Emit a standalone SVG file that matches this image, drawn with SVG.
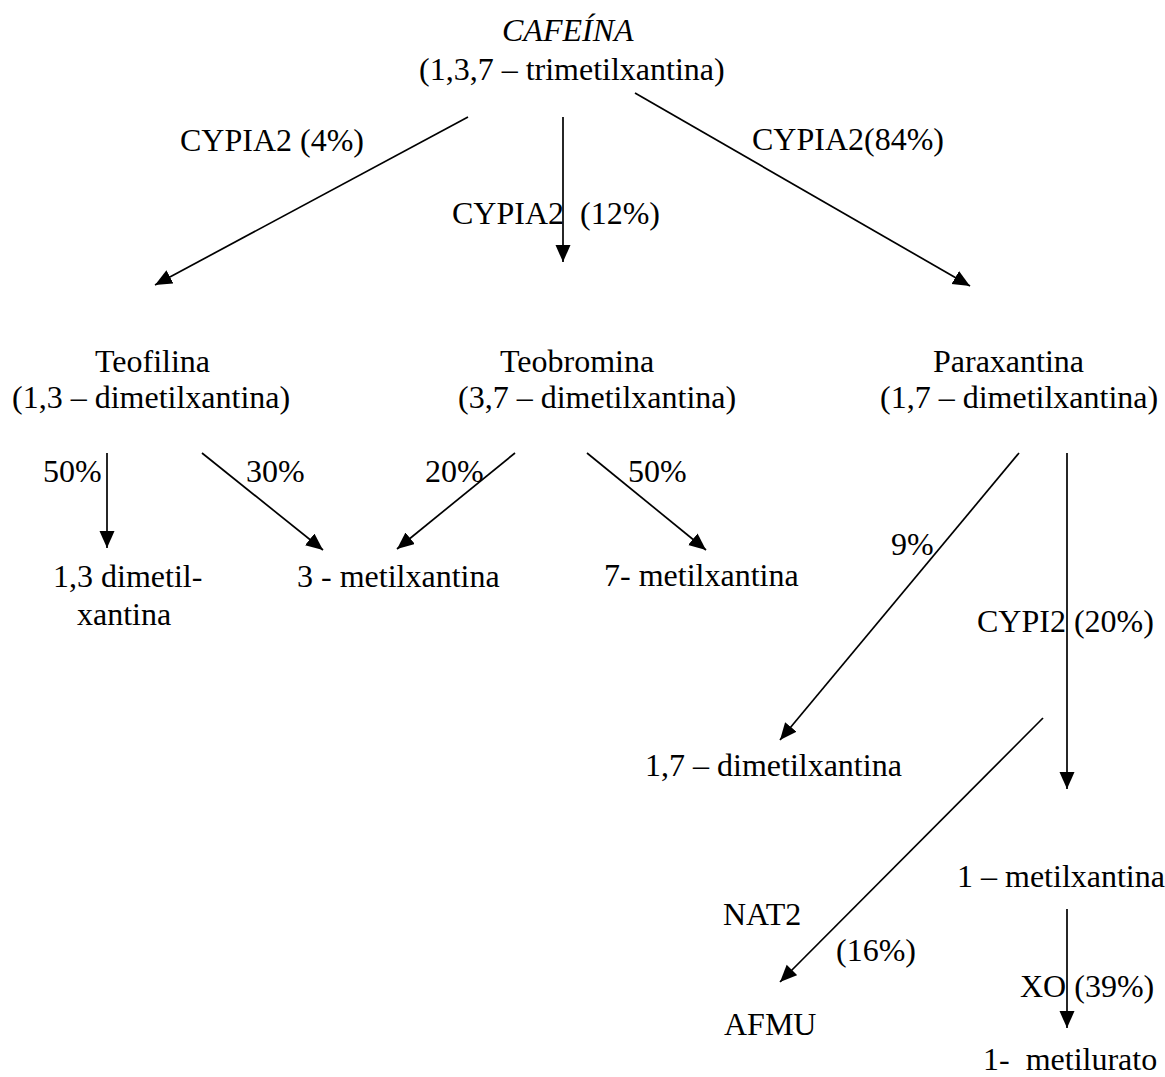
<svg xmlns="http://www.w3.org/2000/svg" width="1165" height="1077" viewBox="0 0 1165 1077">
<style>
text{font-family:"Liberation Serif","Times New Roman",serif;font-size:32px;fill:#000;white-space:pre}
.it{font-style:italic}
.c line{stroke:#000;stroke-width:1.7;marker-end:url(#ah)}
</style>
<defs>
<marker id="ah" markerUnits="userSpaceOnUse" markerWidth="22" markerHeight="20" refX="17" refY="7.5" orient="auto">
<path d="M0,0 L17,7.5 L0,15 Z" fill="#000"/>
</marker>
</defs>
<rect width="1165" height="1077" fill="#fff"/>
<g id="cafeina">
<text class="it" x="502" y="41">CAFEÍNA</text>
<text x="419" y="80">(1,3,7 – trimetilxantina)</text>
</g>
<g id="teofilina">
<text x="95" y="372">Teofilina</text>
<text x="12" y="408">(1,3 – dimetilxantina)</text>
</g>
<g id="teobromina">
<text x="500" y="372">Teobromina</text>
<text x="458" y="408">(3,7 – dimetilxantina)</text>
</g>
<g id="paraxantina">
<text x="933" y="372">Paraxantina</text>
<text x="880" y="408">(1,7 – dimetilxantina)</text>
</g>
<g id="dimetil13">
<text x="53" y="587">1,3 dimetil-</text>
<text x="77" y="625">xantina</text>
</g>
<g id="metil3"><text x="297" y="587">3 - metilxantina</text></g>
<g id="metil7"><text x="604" y="586">7- metilxantina</text></g>
<g id="dimetil17"><text x="645" y="776">1,7 – dimetilxantina</text></g>
<g id="metil1"><text x="957" y="887">1 – metilxantina</text></g>
<g id="afmu"><text x="724" y="1035">AFMU</text></g>
<g id="metilurato"><text x="983" y="1070">1-  metilurato</text></g>
<g id="connectors" class="c">
<line x1="468" y1="117" x2="155" y2="285"/>
<line x1="563" y1="117" x2="563" y2="262"/>
<line x1="635" y1="93" x2="970" y2="286"/>
<line x1="107" y1="453" x2="107" y2="548"/>
<line x1="202" y1="453" x2="323" y2="550"/>
<line x1="515" y1="453" x2="397" y2="549"/>
<line x1="587" y1="453" x2="706" y2="550"/>
<line x1="1019" y1="453" x2="780" y2="740"/>
<line x1="1067" y1="453" x2="1067" y2="789"/>
<line x1="1043" y1="718" x2="780" y2="982"/>
<line x1="1067" y1="909" x2="1067" y2="1028"/>
</g>
<g id="labels">
<text x="180" y="151">CYPIA2 (4%)</text>
<text x="452" y="224">CYPIA2  (12%)</text>
<text x="752" y="150">CYPIA2(84%)</text>
<text x="43" y="482">50%</text>
<text x="246" y="482">30%</text>
<text x="425" y="482">20%</text>
<text x="628" y="482">50%</text>
<text x="891" y="555">9%</text>
<text x="977" y="632">CYPI2 (20%)</text>
<text x="723" y="925">NAT2</text>
<text x="836" y="961">(16%)</text>
<text x="1020" y="997">XO (39%)</text>
</g>
</svg>
